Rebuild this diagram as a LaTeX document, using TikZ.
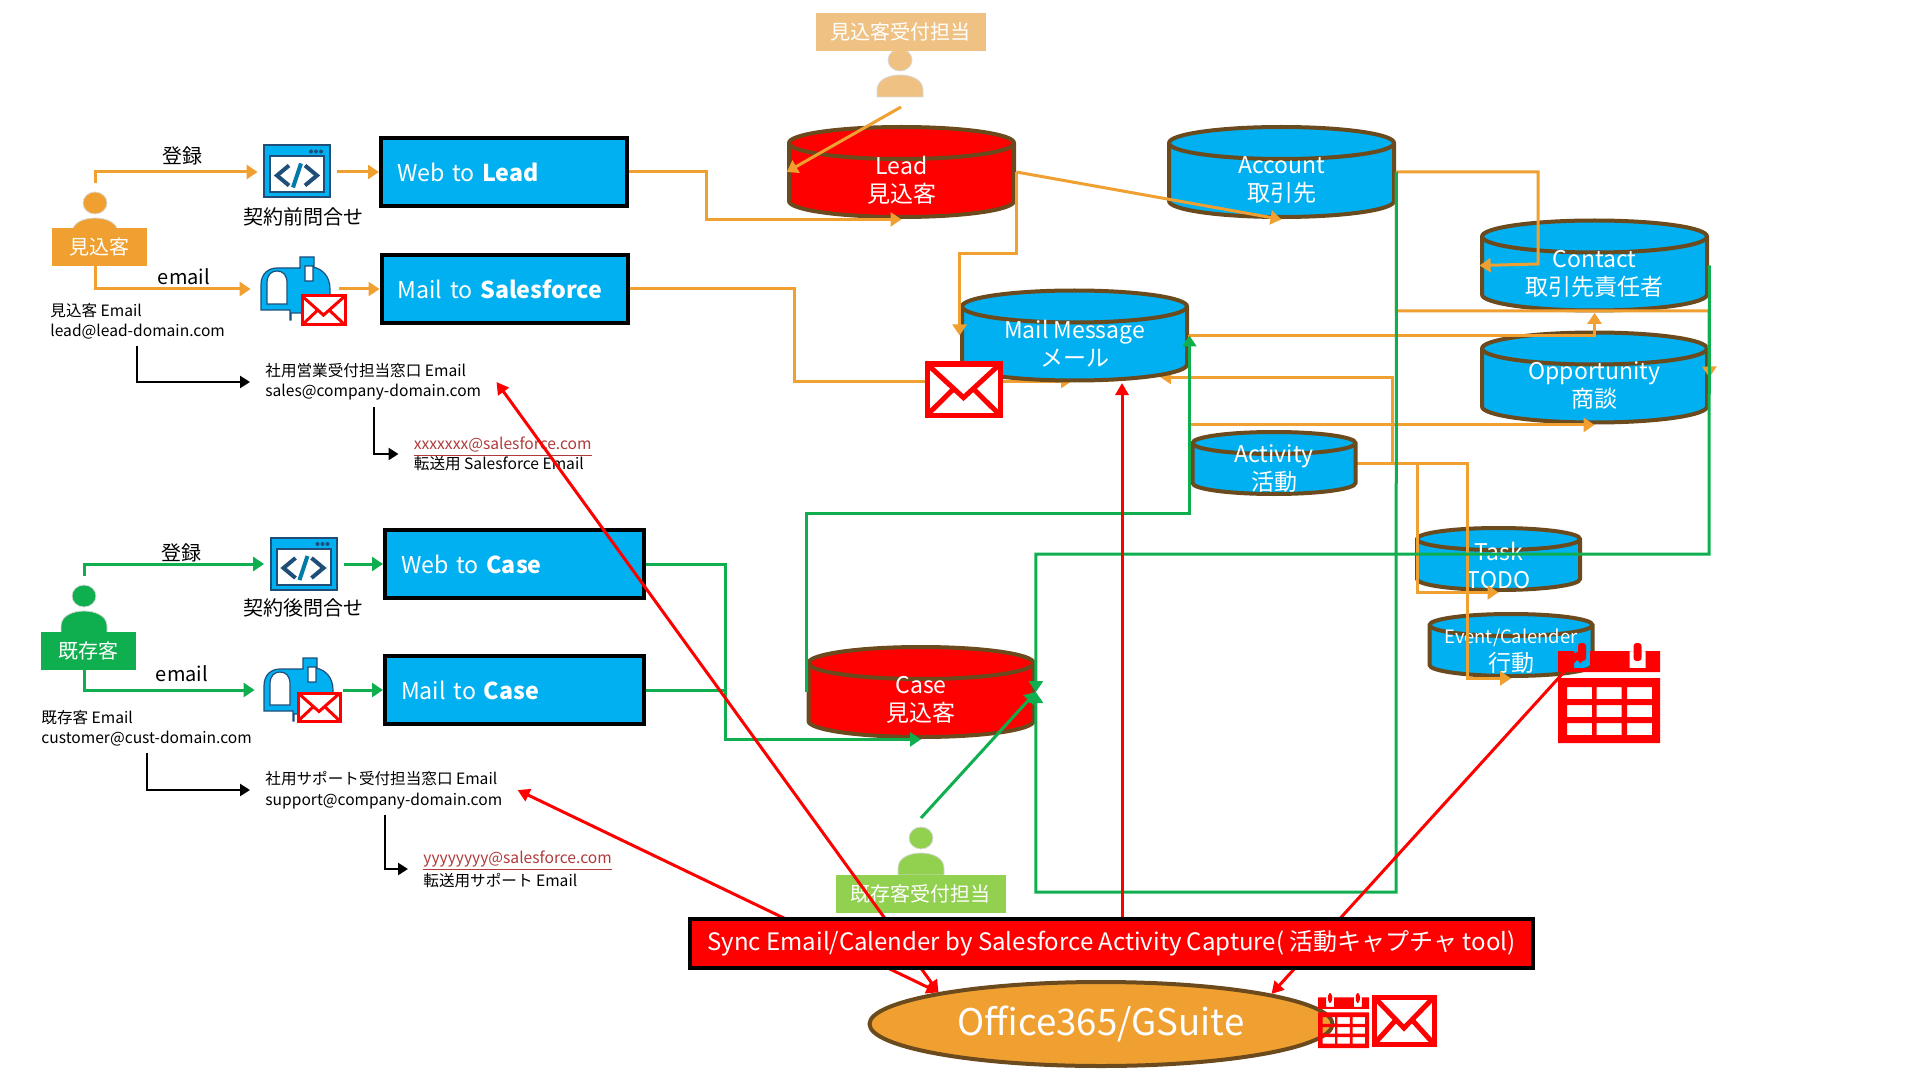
\documentclass[tikz,border=0pt]{standalone}
\usepackage{fontspec}
\setmainfont{Noto Sans CJK JP}
\usetikzlibrary{positioning, shapes.geometric, arrows.meta, calc}
\definecolor{sfblue}{HTML}{00B0F0}
\definecolor{sforange}{HTML}{F0A030}
\definecolor{sfgreen}{HTML}{0FAF50}
\definecolor{sfbrown}{HTML}{6B4A1E}
\definecolor{sfnavy}{HTML}{1F4E79}
\definecolor{sfpale}{HTML}{EFC284}
\definecolor{sflime}{HTML}{92D050}
\definecolor{sflink}{HTML}{B03A3A}

\tikzset{
  pics/person/.style={code={
    \fill[#1, draw=black!15, line width=.4pt] (0,0) ellipse (12 and 11);
    \fill[#1, draw=black!15, line width=.4pt] (-23,37) -- (-23,30) .. controls (-23,20) and (-12,15) .. (0,15)
      .. controls (12,15) and (23,20) .. (23,30) -- (23,37) -- cycle;
  }},
  pics/browsericon/.style={code={
    \fill[sfblue, draw=sfnavy, line width=1pt] (-33,-26) rectangle (33,26);
    \fill[white, draw=sfnavy, line width=1pt] (-27,-15) rectangle (27,21);
    \foreach \dotx in {14,19,24} \fill[sfnavy] (\dotx,-20) circle (2);
    \draw[sfnavy, line width=2pt] (-8,-6) -- (-20,4) -- (-8,14);
    \draw[sfnavy, line width=2pt] (8,-6) -- (20,4) -- (8,14);
    \draw[sfblue!70!black, line width=2pt] (4,-8) -- (-4,16);
  }},
  pics/mailboxicon/.style={code={
    \fill[sfblue, draw=sfnavy, line width=.6pt] (0,53) -- (0,28) .. controls (0,16) and (8,11) .. (16,11)
      -- (39,11) -- (39,0) -- (53,0) -- (53,9) -- (44,9) -- (44,24) -- (52,24) -- (52,10)
      .. controls (62,12) and (69,20) .. (69,32) -- (69,56) -- (30,56) -- (30,63) -- (29,63) -- (29,53) -- cycle;
    \fill[white, draw=sfnavy, line width=.6pt] (6,47) -- (6,26) .. controls (6,17) and (11,14) .. (16,14)
      .. controls (22,14) and (26,18) .. (26,26) -- (26,47) -- cycle;
  }},
}
\newcommand{\envelopeicon}[5]{%
  \begin{scope}[shift={(#1,#2)}, xscale=#3, yscale=#4]
    \draw[red, fill=white, line width=#5] (0,0) rectangle (1,1);
    \draw[red, line width=#5] (.03,.04) -- (.5,.66) -- (.97,.04);
    \draw[red, line width=#5] (.03,.96) -- (.37,.48) (.97,.96) -- (.63,.48);
  \end{scope}}
\newcommand{\calendaricon}[4]{%
  \begin{scope}[shift={(#1,#2)}, xscale=#3, yscale=#4]
    \fill[red, even odd rule] (0,8) rectangle (102,29)
      (16,8) rectangle (32,25) (71.5,8) rectangle (87.5,25);
    \fill[red, rounded corners=1.5pt] (20,0) rectangle (28,18);
    \fill[red, rounded corners=1.5pt] (75.5,0) rectangle (83.5,18);
    \fill[red, even odd rule] (0,35) rectangle (102,100)
      \foreach \cellx in {9,38.6,69}{\foreach \celly in {44,62,80}{(\cellx,\celly) rectangle ++(25,12)}};
  \end{scope}}

\begin{document}
\begin{tikzpicture}[
  x=.5pt, y=-.5pt,
  dbnode/.style n args={3}{rectangle, inner sep=0pt, path picture={
    \draw[draw=sfbrown, line width=2pt, fill=#1] ([shift={(1pt,-#3-1pt)}]path picture bounding box.north west)
      arc[start angle=180, end angle=0, x radius=#2, y radius=#3]
      -- ([shift={(-1pt,#3+1pt)}]path picture bounding box.south east)
      arc[start angle=0, end angle=-180, x radius=#2, y radius=#3] -- cycle;
    \draw[draw=sfbrown, line width=2pt] ([shift={(1pt,-#3-1pt)}]path picture bounding box.north west)
      arc[start angle=180, end angle=360, x radius=#2, y radius=#3];
  }},
  bigdb/.style={dbnode={#1}{56.25pt}{8pt}, minimum width=114.5pt, minimum height=47pt},
  smalldb/.style={dbnode={sfblue}{40.75pt}{5.5pt}, minimum width=83.5pt, minimum height=33pt},
  dbtext/.style={text=white, align=center, inner sep=0pt, font=\fontsize{11.5}{14}\selectfont, yshift=-4pt},
  smalltext/.style={text=white, align=center, inner sep=0pt, font=\fontsize{11.5}{14}\selectfont, yshift=-3pt},
  flowbox/.style={draw=black, line width=2pt, fill=sfblue, text=white, align=left, inner xsep=8pt,
    minimum height=34pt, text width=#1, font=\fontsize{11.6}{15}\selectfont},
  ownerbox/.style={fill=#1, text=white, inner sep=0pt, font=\fontsize{10}{12}\selectfont},
  iconslot/.style={inner sep=0pt, minimum height=26pt, minimum width=39.5pt},
  captext/.style={font=\fontsize{10}{12}\selectfont, inner sep=0pt},
  mailtext/.style={font=\fontsize{7.8}{10.2}\selectfont, align=left, inner xsep=7.5pt, inner ysep=0pt, anchor=west},
  orangeline/.style={draw=sforange, line width=1.5pt, -{Triangle[length=5.5pt, width=7pt]}},
  greenline/.style={draw=sfgreen, line width=1.5pt, -{Triangle[length=5.5pt, width=7pt]}},
  redline/.style={draw=red, line width=1.5pt, -{Triangle[length=6pt, width=6.5pt]}},
  redboth/.style={draw=red, line width=1.5pt, {Triangle[length=6pt, width=6.5pt]}-{Triangle[length=6pt, width=6.5pt]}},
  blackline/.style={draw=black, line width=1.2pt, -{Triangle[length=5pt, width=6pt]}},
]
  \useasboundingbox (0,0) rectangle (1920,1080);
  % people
  \pic at (95,203) {person=sforange};
  \pic at (84,596) {person=sfgreen};
  \pic at (900,60) {person=sfpale};
  \pic at (921,838) {person=sflime};
  \node[ownerbox=sforange, minimum width=47.5pt, minimum height=19pt] (leadowner) at (99.5,247) {見込客\hspace{3.5pt}};
  \node[ownerbox=sfgreen, minimum width=47.5pt, minimum height=19pt] (custowner) at (88.5,651) {既存客\hspace{3.5pt}};
  \node[ownerbox=sfpale, minimum width=85pt, minimum height=19pt] (leadstaffbox) at (900.5,32) {見込客受付担当};
  \node[ownerbox=sflime, minimum width=85pt, minimum height=19pt] (custstaffbox) at (920.5,894) {既存客受付担当};
  \coordinate (leaduser) at (95,183);
  \coordinate (custuser) at (84,576);
  \coordinate (leadstaff) at (901,107);
  \coordinate (custstaff) at (921,818);

  % forms
  \node[flowbox=107pt] (webLead) at (504,172) {Web to \textbf{Lead}};
  \node[flowbox=107pt] (mailSF) at (504.5,289) {\mbox{Mail to \textbf{Salesforce}}};
  \node[flowbox=113.5pt] (webCase) at (514.5,564) {Web to \textbf{Case}};
  \node[flowbox=113.5pt] (mailCase) at (514.5,690) {Mail to \textbf{Case}};

  % icons
  \node[iconslot] (browserA) at (297.5,172) {};
  \node[iconslot] (browserB) at (304,564) {};
  \node[iconslot, minimum width=44pt] (mailboxA) at (295,289) {};
  \node[iconslot, minimum width=44pt] (mailboxB) at (299,690) {};
  \pic at (297,171.5) {browsericon};
  \pic at (303.5,564) {browsericon};
  \pic at (261,257) {mailboxicon};
  \pic at (264,658) {mailboxicon};
  \envelopeicon{302}{296}{43}{29}{1.5pt}
  \envelopeicon{298}{693}{42}{28}{1.5pt}

  % labels
  \node[captext] (regA) at (182,156) {登録};
  \node[captext] (regB) at (181,553) {登録};
  \node[captext] (preQ) at (303,217) {契約前問合せ};
  \node[captext] (postQ) at (303,608) {契約後問合せ};
  \node[captext] (mailA) at (184,277) {email};
  \node[captext] (mailB) at (182,674) {email};
  \node[mailtext] (leadmail) at (35,321) {見込客 Email\\lead@lead-domain.com};
  \node[mailtext] (custmail) at (26,728) {既存客 Email\\customer@cust-domain.com};
  \node[mailtext] (salesmail) at (250,382) {社用営業受付担当窓口 Email\\sales@company-domain.com};
  \node[mailtext] (supportmail) at (250,790) {社用サポート受付担当窓口 Email\\support@company-domain.com};
  \node[mailtext] (sfmailA) at (398.5,454) {{\color{sflink}\underline{xxxxxxx@salesforce.com}}\\転送用 Salesforce Email};
  \node[mailtext] (sfmailB) at (408,869) {{\color{sflink}\underline{yyyyyyyy@salesforce.com}}\\転送用サポート Email};

  % flows that run behind the mail object
  \coordinate (mailback) at (1160,377);
  \coordinate (mailbottom) at (1072,381);
  \draw[orangeline] (mailSF.east) -- (794,289) |- (mailbottom);
  \draw[orangeline] (1357,463) -| (1392.5,377) -- (mailback);

  % objects
  \node[bigdb=red, label={[dbtext]center:Lead\\見込客}] (lead) at (901.5,172) {};
  \node[bigdb=sfblue, label={[dbtext]center:Account\\取引先}] (account) at (1281.5,172) {};
  \node[bigdb=sfblue, label={[dbtext]center:Mail Message\\メール}] (mail) at (1074.5,335.5) {};
  \node[bigdb=sfblue, label={[dbtext]center:Contact\\取引先責任者}] (contact) at (1594.5,265.5) {};
  \node[bigdb=sfblue, label={[dbtext]center:Opportunity\\商談}] (opp) at (1594.5,377.5) {};
  \node[smalldb, label={[smalltext]center:Activity\\活動}] (activity) at (1274,463) {};
  \node[smalldb, label={[smalltext]center:Task\\TODO}] (task) at (1498.5,559) {};
  \node[smalldb, label={[smalltext]center:{\fontsize{9.2}{11}\selectfont Event/Calender}\\行動}] (event) at (1511,645) {};
  \node[bigdb=red, label={[dbtext]center:Case\\見込客}] (case) at (921,692) {};

  % orange flows
  \draw[orangeline] (leaduser) |- (browserA);
  \draw[orangeline] (browserA) -- (webLead);
  \draw[orangeline] (leadowner.south -| leaduser) |- (mailboxA);
  \draw[orangeline] (mailboxA) -- (mailSF);
  \draw[orangeline] (webLead.east) -- (706,172) |- (lead.south);
  \draw[orangeline] (leadstaff) -- (lead.west);
  \draw[orangeline] (lead.east) -- (account.south);
  \draw[orangeline] (lead.east) -- ++(0,82) -| (mail.west);
  \draw[orangeline] (account.east) -| (1538,264) -- (contact.west);
  \draw[orangeline] (account.east) |- (1709,311) -- (opp.east);
  \draw[orangeline] (mail.east) -| (contact.south);
  \draw[orangeline] (mail.east) |- (opp.south);
  \draw[orangeline] (activity.east) -- (1417.5,463) |- (task.south);
  \draw[orangeline] (activity.east) -- (1467,463) |- (event.south);

  % green flows
  \draw[greenline] (custuser) |- (browserB);
  \draw[greenline] (browserB) -- (webCase);
  \draw[greenline] (custowner.south -| custuser) |- (mailboxB);
  \draw[greenline] (mailboxB) -- (mailCase);
  \draw[greenline] (webCase.east) -- (725,564) |- (case.south);
  \draw[draw=sfgreen, line width=1.5pt] (mailCase.east) -- (725,690);
  \draw[greenline] (custstaff) -- (case.east);
  \draw[greenline] (case.west) -- ++(0,-179) -| (mail.east);
  \draw[greenline] (contact.east) -- (1709,554) -| (case.east);
  \draw[greenline] (account.east) -- (1396,892) -| (case.east);

  % mail addresses
  \coordinate (leadmailout) at (137,346);
  \coordinate (salesmailout) at (374,407);
  \coordinate (custmailout) at (147,753);
  \coordinate (supportmailout) at (385,815);
  \draw[blackline] (leadmailout) |- (salesmail.west);
  \draw[blackline] (salesmailout) |- (sfmailA.west);
  \draw[blackline] (custmailout) |- (supportmail.west);
  \draw[blackline] (supportmailout) |- (sfmailB.west);

  % sync
  \node[shape=ellipse, draw=sfbrown, line width=2pt, fill=sforange, text=white, minimum width=231.5pt, minimum height=42pt,
    inner sep=0pt, font=\fontsize{18.3}{21}\selectfont] (office) at (1101,1024) {Office365/GSuite};
  \coordinate (mailtip) at (1122,383);
  \coordinate (caltip) at (1584,650);
  \coordinate (barfoot) at (1122,930);
  \draw[redboth] (office.169.3) -- (salesmail.east);
  \draw[redboth] (office.169.3) -- (supportmail.east);
  \draw[redline] (barfoot) -- (mailtip);
  \draw[redboth] (office.10.7) -- (caltip);
  \node[draw=black, line width=2pt, fill=red, text=white, minimum width=421.5pt, minimum height=24.5pt, inner sep=0pt,
    font=\fontsize{12}{14}\selectfont] (sync) at (1111.5,943) {Sync Email/Calender by Salesforce Activity Capture( 活動キャプチャ tool)};

  \envelopeicon{927}{364}{73}{51}{2.5pt}
  \envelopeicon{1374}{997}{60}{47}{2.5pt}
  \calendaricon{1558}{643}{1}{1}
  \calendaricon{1318}{993}{.5}{.55}
\end{tikzpicture}
\end{document}
